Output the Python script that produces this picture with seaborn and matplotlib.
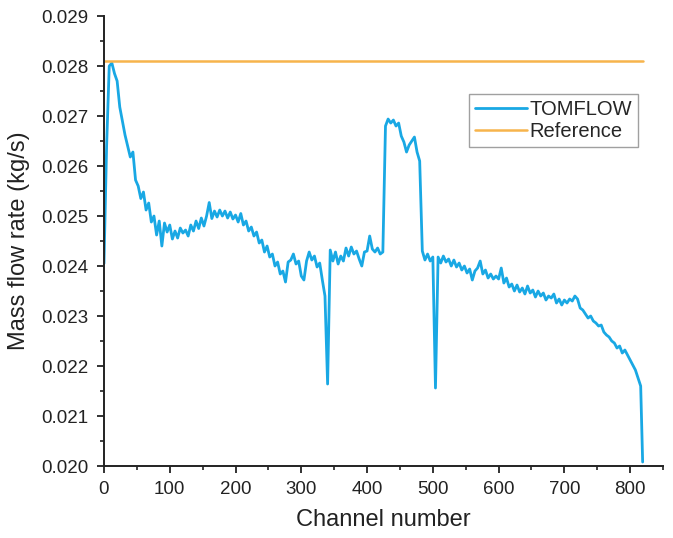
import numpy as np
import matplotlib
matplotlib.use('Agg')
import matplotlib.pyplot as plt
from matplotlib.ticker import MultipleLocator
import seaborn as sns

# Dados (canal a cada 4, mais o último canal)
channels = list(range(0, 817, 4)) + [819]
tomflow = [
    0.02405, 0.02640, 0.02800, 0.02806, 0.02785, 0.02770, 0.02718, 0.02690, 0.02662, 0.02640,
    0.02618, 0.02628, 0.02572, 0.02560, 0.02535, 0.02548, 0.02512, 0.02526, 0.02488, 0.02500,
    0.02462, 0.02490, 0.02440, 0.02486, 0.02468, 0.02482, 0.02454, 0.02470, 0.02456, 0.02476,
    0.02466, 0.02472, 0.02460, 0.02482, 0.02470, 0.02490, 0.02475, 0.02496, 0.02480, 0.02500,
    0.02527, 0.02495, 0.02510, 0.02498, 0.02512, 0.02500, 0.02510, 0.02496, 0.02508, 0.02494,
    0.02502, 0.02488, 0.02505, 0.02482, 0.02490, 0.02470, 0.02478, 0.02460, 0.02468, 0.02446,
    0.02452, 0.02428, 0.02440, 0.02418, 0.02424, 0.02400, 0.02408, 0.02384, 0.02390, 0.02368,
    0.02408, 0.02412, 0.02424, 0.02404, 0.02410, 0.02380, 0.02372, 0.02410, 0.02428, 0.02412,
    0.02420, 0.02398, 0.02406, 0.02372, 0.02340, 0.02164, 0.02432, 0.02410, 0.02428, 0.02404,
    0.02420, 0.02410, 0.02436, 0.02420, 0.02438, 0.02424, 0.02430, 0.02414, 0.02400, 0.02428,
    0.02430, 0.02460, 0.02434, 0.02428, 0.02436, 0.02424, 0.02428, 0.02680, 0.02694, 0.02686,
    0.02692, 0.02680, 0.02686, 0.02660, 0.02648, 0.02628, 0.02642, 0.02650, 0.02658, 0.02628,
    0.02610, 0.02430, 0.02412, 0.02424, 0.02410, 0.02418, 0.02156, 0.02418, 0.02406, 0.02420,
    0.02408, 0.02414, 0.02400, 0.02412, 0.02398, 0.02406, 0.02392, 0.02400, 0.02386, 0.02394,
    0.02372, 0.02390, 0.02396, 0.02410, 0.02384, 0.02392, 0.02376, 0.02384, 0.02374, 0.02380,
    0.02374, 0.02396, 0.02366, 0.02376, 0.02358, 0.02364, 0.02350, 0.02362, 0.02348, 0.02356,
    0.02344, 0.02360, 0.02346, 0.02352, 0.02338, 0.02350, 0.02340, 0.02346, 0.02332, 0.02340,
    0.02336, 0.02344, 0.02326, 0.02334, 0.02322, 0.02332, 0.02326, 0.02334, 0.02330, 0.02340,
    0.02334, 0.02316, 0.02312, 0.02304, 0.02296, 0.02300, 0.02290, 0.02286, 0.02280, 0.02282,
    0.02268, 0.02262, 0.02258, 0.02250, 0.02246, 0.02236, 0.02240, 0.02226, 0.02232, 0.02222,
    0.02212, 0.02202, 0.02192, 0.02176, 0.02160,
    0.02008,
]
reference_value = 0.0281

sns.set_style('ticks')
plt.rcParams['font.family'] = ['Liberation Sans', 'DejaVu Sans']

fig = plt.figure(figsize=(6.73, 5.38), dpi=100)
ax = fig.add_axes([0.1545, 0.1338, 0.8307, 0.8364])

sns.lineplot(x=channels, y=tomflow, ax=ax, color='#19a8e4', linewidth=2.0, label='TOMFLOW')
sns.lineplot(x=[channels[0], channels[-1]], y=[reference_value, reference_value], ax=ax,
             color='#f7b44c', linewidth=1.8, label='Reference')

ax.set_xlim(0, 850)
ax.set_ylim(0.020, 0.029)
ax.xaxis.set_major_locator(MultipleLocator(100))
ax.xaxis.set_minor_locator(MultipleLocator(50))
ax.yaxis.set_major_locator(MultipleLocator(0.001))
ax.yaxis.set_minor_locator(MultipleLocator(0.0005))
ax.yaxis.set_major_formatter(plt.FuncFormatter(lambda v, p: f'{v:.3f}'))

ax.tick_params(which='major', direction='out', length=5, width=1.3, labelsize=13.5, pad=6, colors='#222222')
ax.tick_params(which='minor', direction='out', length=3, width=1.2, colors='#222222')
for s in ['left', 'bottom']:
    ax.spines[s].set_linewidth(1.4)
    ax.spines[s].set_color('#222222')
sns.despine(ax=ax)

ax.set_xlabel('Channel number', fontsize=17, color='#222222', labelpad=8)
ax.set_ylabel('Mass flow rate (kg/s)', fontsize=17, color='#222222', labelpad=8)

leg = ax.legend(loc='upper right', bbox_to_anchor=(0.955, 0.827), fontsize=14.5,
                frameon=True, fancybox=False, edgecolor='#888888', handlelength=2.6,
                handletextpad=0.1, borderpad=0.3, labelspacing=0.15, borderaxespad=0)
leg.get_frame().set_linewidth(1.0)

fig.savefig('out.png', dpi=100)
